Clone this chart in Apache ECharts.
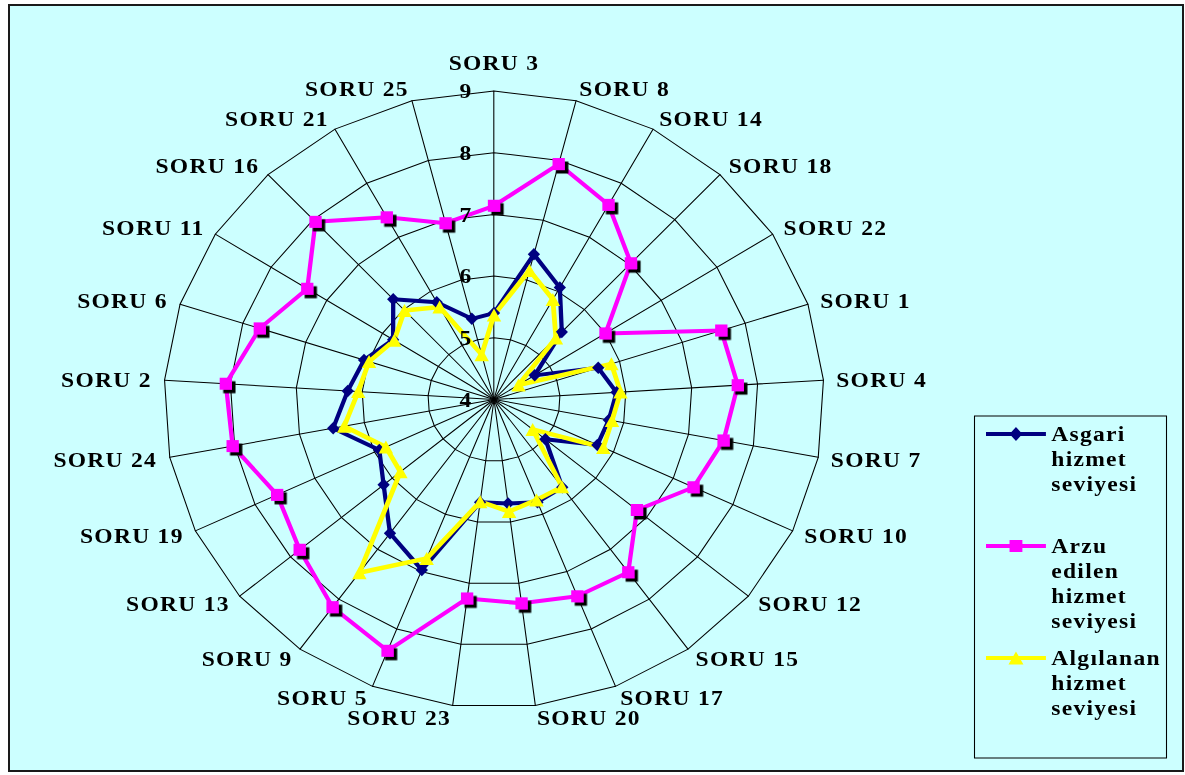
<!DOCTYPE html>
<html>
<head>
<meta charset="utf-8">
<script src="https://cdn.jsdelivr.net/npm/echarts@6/dist/echarts.min.js"></script>
<style>
  html, body { margin: 0; padding: 0; background: #ffffff; }
  #frame {
    position: absolute; left: 8px; top: 4px; width: 1176px; height: 768px;
    background: #ccffff; border: 2px solid #1a1a1a; box-sizing: border-box;
  }
  /* the chart is laid out on a narrower canvas and widened, giving the oval web */
  #chart {
    position: absolute; left: 0; top: 0; width: 1107.5px; height: 775px;
    transform: scaleX(1.07); transform-origin: 0 0;
  }
  #chart text { letter-spacing: 1.2px; }
</style>
</head>
<body>
<div id="frame"></div>
<div id="chart"></div>
<script>
// Questions, listed clockwise starting from the top spoke
const categories = ['SORU 3', 'SORU 8', 'SORU 14', 'SORU 18', 'SORU 22', 'SORU 1', 'SORU 4',
  'SORU 7', 'SORU 10', 'SORU 12', 'SORU 15', 'SORU 17', 'SORU 20', 'SORU 23', 'SORU 5',
  'SORU 9', 'SORU 13', 'SORU 19', 'SORU 24', 'SORU 2', 'SORU 6', 'SORU 11', 'SORU 16',
  'SORU 21', 'SORU 25'];

// Minimum acceptable service level
const asgari = [5.40, 6.43, 6.07, 5.50, 4.73, 5.66, 5.86, 5.77, 5.73, 5.01, 5.76, 5.79, 5.70,
  5.68, 6.97, 6.68, 6.17, 5.92, 6.48, 6.22, 6.07, 5.81, 6.23, 5.80, 5.35];
// Desired service level
const arzu = [7.14, 7.94, 7.60, 7.03, 6.00, 7.62, 7.70, 7.54, 7.34, 6.81, 7.46, 7.43, 7.33,
  7.25, 8.38, 8.16, 7.82, 7.63, 8.03, 8.07, 7.73, 7.35, 7.95, 7.37, 6.95];
// Perceived service level
const algilanan = [5.37, 6.16, 5.85, 5.37, 4.44, 5.87, 5.92, 5.82, 5.83, 4.76, 5.75, 5.75, 5.83,
  5.67, 6.77, 7.47, 5.84, 5.81, 6.31, 6.06, 5.99, 5.79, 5.98, 5.71, 4.75];

const seriesNames = ['Asgari hizmet seviyesi', 'Arzu edilen hizmet seviyesi', 'Algılanan hizmet seviyesi'];
const axisMin = 4;
const axisMax = 9;
const axisStep = 1;

const SX = 1.07;                 // horizontal widening applied by CSS
const FONT = "'Liberation Serif', 'Times New Roman', serif";
const LINE_H = 25;

// ECharts places radar indicators counter-clockwise, so walk the list backwards after the first
const ccwOrder = categories.map((_, i) => (categories.length - i) % categories.length);
const reorder = arr => ccwOrder.map(i => arr[i]);

const textBase = { color: '#000', fontFamily: FONT, fontWeight: 'bold', fontSize: 22 };

// web: spokes, rings and question names
const webIndicator = reorder(categories).map((name, i) => {
  const item = { name: name, min: axisMin, max: axisMax };
  if (i === 0) item.nameGap = 17;
  return item;
});
// overlay: scale numbers on the top spoke, drawn above the lines
const scaleIndicator = reorder(categories).map((name, i) => {
  const item = { name: name, min: axisMin, max: axisMax };
  if (i === 0) item.axisLabel = { show: true };
  return item;
});

const radarCommon = {
  center: [494 / SX, 399.5],
  radius: 308.5,
  startAngle: 90,
  shape: 'polygon',
  splitNumber: (axisMax - axisMin) / axisStep,
  axisTick: { show: false },
  splitArea: { show: false }
};

// legend icons: a short line with the series marker in its middle
const ICONS = [
  'path://M0 5 L56 5 L56 9 L0 9 Z M28 0 L34 7 L28 14 L22 7 Z',
  'path://M0 5 L56 5 L56 9 L0 9 Z M22 1 L34 1 L34 13 L22 13 Z',
  'path://M0 5 L56 5 L56 9 L0 9 Z M28 0.5 L35 13.5 L21 13.5 Z'
];

// one word per line; blank lines above keep the first word level with the icon
const legendText = name => {
  const words = name.split(' ');
  return '\n'.repeat(words.length - 1) + words.join('\n');
};

const chart = echarts.init(document.getElementById('chart'), null, { renderer: 'svg' });

chart.setOption({
  animation: false,
  backgroundColor: 'transparent',
  graphic: [{
    type: 'rect',
    silent: true,
    z: -1,
    shape: { x: 974.5 / SX, y: 416, width: 192 / SX, height: 342 },
    style: { fill: 'none', stroke: '#000', lineWidth: 1 }
  }],
  legend: {
    orient: 'vertical',
    left: 921.5,
    top: 371.5,
    padding: 0,
    itemGap: -38,
    itemWidth: 56,
    itemHeight: 14,
    selectedMode: false,
    formatter: legendText,
    textStyle: Object.assign({ lineHeight: LINE_H }, textBase),
    data: seriesNames.map((name, i) => ({ name: name, icon: ICONS[i] }))
  },
  radar: [
    Object.assign({}, radarCommon, {
      z: 0,
      indicator: webIndicator,
      nameGap: 12,
      axisName: textBase,
      axisLine: { lineStyle: { color: '#000', width: 1 } },
      splitLine: { lineStyle: { color: '#000', width: 1 } },
      axisLabel: { show: false }
    }),
    Object.assign({}, radarCommon, {
      z: 5,
      indicator: scaleIndicator,
      axisName: { show: false },
      axisLine: { show: false },
      splitLine: { show: false },
      axisLabel: Object.assign({ show: false, margin: 20, showMinLabel: true, showMaxLabel: true }, textBase)
    })
  ],
  series: [
    {
      type: 'radar', name: seriesNames[0], radarIndex: 0,
      symbol: 'diamond', symbolSize: [11.5, 12.5],
      lineStyle: { color: '#000080', width: 4 },
      itemStyle: { color: '#000080' },
      emphasis: { disabled: true },
      data: [{ name: seriesNames[0], value: reorder(asgari) }]
    },
    {
      type: 'radar', name: seriesNames[1], radarIndex: 0,
      symbol: 'rect', symbolSize: [11.5, 12],
      lineStyle: { color: '#ff00ff', width: 4 },
      itemStyle: { color: '#ff00ff', shadowColor: '#000', shadowBlur: 0, shadowOffsetX: 3.3, shadowOffsetY: 3.5 },
      emphasis: { disabled: true },
      data: [{ name: seriesNames[1], value: reorder(arzu) }]
    },
    {
      type: 'radar', name: seriesNames[2], radarIndex: 0,
      symbol: 'triangle', symbolSize: [13.5, 13],
      lineStyle: { color: '#ffff00', width: 4.5 },
      itemStyle: { color: '#ffff00' },
      emphasis: { disabled: true },
      data: [{ name: seriesNames[2], value: reorder(algilanan) }]
    }
  ]
});
</script>
</body>
</html>
